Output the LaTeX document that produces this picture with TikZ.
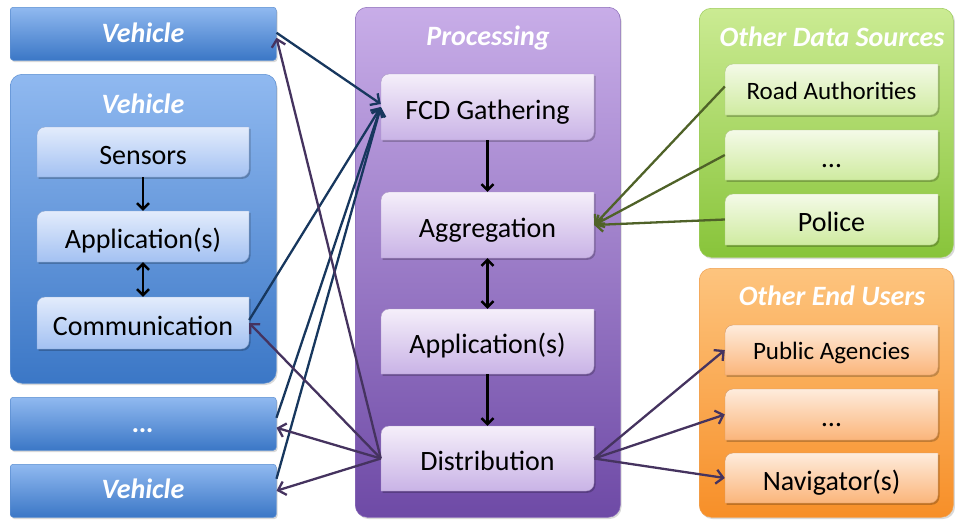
\documentclass[tikz,border=0pt]{standalone}
\usepackage{fontspec}
\setmainfont{Carlito}
\usetikzlibrary{arrows.meta}
\definecolor{bTop}{HTML}{90B9F0}
\definecolor{bBot}{HTML}{3B77C6}
\definecolor{bEdge}{HTML}{5A8DD0}
\definecolor{biTop}{HTML}{E3ECFC}
\definecolor{biBot}{HTML}{A3C1F2}
\definecolor{pTop}{HTML}{C8ADE8}
\definecolor{pBot}{HTML}{6E4AA6}
\definecolor{pEdge}{HTML}{8A6BB8}
\definecolor{piTop}{HTML}{F5EFFA}
\definecolor{piBot}{HTML}{C9B3E6}
\definecolor{gTop}{HTML}{CBEB93}
\definecolor{gBot}{HTML}{88C43A}
\definecolor{gEdge}{HTML}{9CCB5A}
\definecolor{giTop}{HTML}{F4FAE8}
\definecolor{giBot}{HTML}{CFEBA0}
\definecolor{oTop}{HTML}{FDC47E}
\definecolor{oBot}{HTML}{F78F28}
\definecolor{oEdge}{HTML}{F0A050}
\definecolor{oiTop}{HTML}{FEECDD}
\definecolor{oiBot}{HTML}{FBB57A}
\definecolor{navyc}{HTML}{17375E}
\definecolor{purpc}{HTML}{45335F}
\definecolor{greenc}{HTML}{4F6228}
\newcommand\iboxpath[4]{(#1,#4) -- (#1,{#2+8}) .. controls (#1,{#2+3.5}) and ({#1+3.5},#2) .. ({#1+8},#2) -- (#3,#2) -- (#3,{#4-8}) .. controls (#3,{#4-3.5}) and ({#3-3.5},#4) .. ({#3-8},#4) -- cycle}
\newcommand\ibox[8]{%
  \fill[black,opacity=0.22] [shift={(1.5,1.8)}] \iboxpath{#2}{#3}{#4}{#5};
  \shade[top color=#6,bottom color=#7] \iboxpath{#2}{#3}{#4}{#5};
  \draw[#7!85!black,line width=0.4pt] \iboxpath{#2}{#3}{#4}{#5};
  \node[txt,minimum width={(#4-#2)*1pt},minimum height={(#5-#3)*1pt}] (#1) at ({(#2+#4)/2},{(#3+#5)/2}) {#8};
}
\newcommand\smalltxt[1]{{\fontsize{25}{27}\selectfont\raisebox{2.5pt}{#1}}}
\begin{document}
\begin{tikzpicture}[x=1pt,y=-1pt,
  cont/.style={rounded corners=12pt,line width=0.5pt,inner sep=0pt,anchor=north west},
  bar/.style={rounded corners=3pt,line width=0.5pt,inner sep=0pt,anchor=north west,
     top color=bTop,bottom color=bBot,draw=bEdge},
  title/.style={font=\fontsize{28}{30}\selectfont\bfseries\itshape,text=white,inner sep=0pt,anchor=base},
  txt/.style={font=\fontsize{28}{30}\selectfont,inner sep=0pt,text height=24.6pt,text depth=0pt},
  conn/.style={line width=2.3pt,-{Straight Barb[length=7pt,width=14pt]}},
  inarr/.style={line width=2.4pt,black,-{Straight Barb[length=6pt,width=12pt]}},
  inarr2/.style={line width=2.4pt,black,{Straight Barb[length=6pt,width=12pt]}-{Straight Barb[length=6pt,width=12pt]}}]
\useasboundingbox (0,0) rectangle (955,520);
% shadows of containers
\fill[black,opacity=0.15,rounded corners=3pt] (11.5,9) rectangle (277.5,62);
\fill[black,opacity=0.15,rounded corners=12pt] (11.5,76) rectangle (277.5,385);
\fill[black,opacity=0.15,rounded corners=3pt] (11.5,399) rectangle (277.5,452);
\fill[black,opacity=0.15,rounded corners=3pt] (11.5,466) rectangle (277.5,519);
\fill[black,opacity=0.15,rounded corners=12pt] (356.5,9) rectangle (621.5,519);
\fill[black,opacity=0.15,rounded corners=12pt] (700.5,10) rectangle (955,259);
\fill[black,opacity=0.15,rounded corners=12pt] (700.5,270) rectangle (955,519);
% left column
\node[bar,minimum width=266pt,minimum height=53pt] (veh1) at (10,7) {};
\node[title] (t1) at (143,42) {Vehicle};
\node[cont,top color=bTop,bottom color=bBot,draw=bEdge,minimum width=266pt,minimum height=309pt] (vehC) at (10,74) {};
\node[title] (t2) at (143,113) {Vehicle};
\node[bar,minimum width=266pt,minimum height=53pt] (vdots) at (10,397) {};
\node[title] (t3) at (143,432) {…};
\node[bar,minimum width=266pt,minimum height=53pt] (veh2) at (10,464) {};
\node[title] (t4) at (143,498) {Vehicle};
% processing
\node[cont,top color=pTop,bottom color=pBot,draw=pEdge,minimum width=265pt,minimum height=510pt] (proc) at (355,7) {};
\node[title] (t5) at (488,45) {Processing};
% other data sources
\node[cont,top color=gTop,bottom color=gBot,draw=gEdge,minimum width=254pt,minimum height=249pt] (ods) at (699,8) {};
\node[title] (t6) at (832,46) {Other Data Sources};
% other end users
\node[cont,top color=oTop,bottom color=oBot,draw=oEdge,minimum width=254pt,minimum height=249pt] (oeu) at (699,268) {};
\node[title] (t7) at (832,305) {Other End Users};
% inner boxes
\ibox{sens}{37}{127}{249}{177}{biTop}{biBot}{Sensors}
\ibox{app1}{37}{211}{249}{262}{biTop}{biBot}{Application(s)}
\ibox{comm}{37}{297}{249}{349}{biTop}{biBot}{Communication}
\ibox{fcd}{381}{74}{594}{140}{piTop}{piBot}{FCD Gathering}
\ibox{agg}{381}{192}{594}{258}{piTop}{piBot}{Aggregation}
\ibox{app2}{381}{309}{594}{374}{piTop}{piBot}{Application(s)}
\ibox{dist}{381}{426}{594}{491}{piTop}{piBot}{Distribution}
\ibox{road}{725}{64}{938}{115}{giTop}{giBot}{\smalltxt{Road Authorities}}
\ibox{gdots}{725}{130}{938}{180}{giTop}{giBot}{…}
\ibox{police}{725}{194}{938}{245}{giTop}{giBot}{Police}
\ibox{pub}{725}{325}{938}{375}{oiTop}{oiBot}{\smalltxt{Public Agencies}}
\ibox{odots}{725}{389}{938}{440}{oiTop}{oiBot}{…}
\ibox{nav}{725}{453}{938}{503}{oiTop}{oiBot}{Navigator(s)}
% inner arrows
\draw[inarr] (sens.south) -- (app1.north);
\draw[inarr2] (app1.south) -- (comm.north);
\draw[inarr] (fcd.south) -- (agg.north);
\draw[inarr2] (agg.south) -- (app2.north);
\draw[inarr] (app2.south) -- (dist.north);
% connectors
\draw[conn,navyc] ([yshift=1pt]veh1.east) -- ([yshift=3pt]fcd.west);
\draw[conn,navyc] ([yshift=3pt]comm.east) -- (fcd.west);
\draw[conn,navyc] ([yshift=6pt]vdots.east) -- (fcd.west);
\draw[conn,navyc] ([yshift=12pt]veh2.east) -- (fcd.west);
\draw[conn,purpc] (dist.west) -- ([yshift=-4pt]veh1.east);
\draw[conn,purpc] (dist.west) -- (comm.east);
\draw[conn,purpc] (dist.west) -- ([yshift=-4pt]vdots.east);
\draw[conn,purpc] (dist.west) -- (veh2.east);
\draw[conn,greenc] ([yshift=3pt]road.west) -- (agg.east);
\draw[conn,greenc] (gdots.west) -- (agg.east);
\draw[conn,greenc] (police.west) -- (agg.east);
\draw[conn,purpc] (dist.east) -- (pub.west);
\draw[conn,purpc] (dist.east) -- (odots.west);
\draw[conn,purpc] (dist.east) -- (nav.west);
\end{tikzpicture}
\end{document}
